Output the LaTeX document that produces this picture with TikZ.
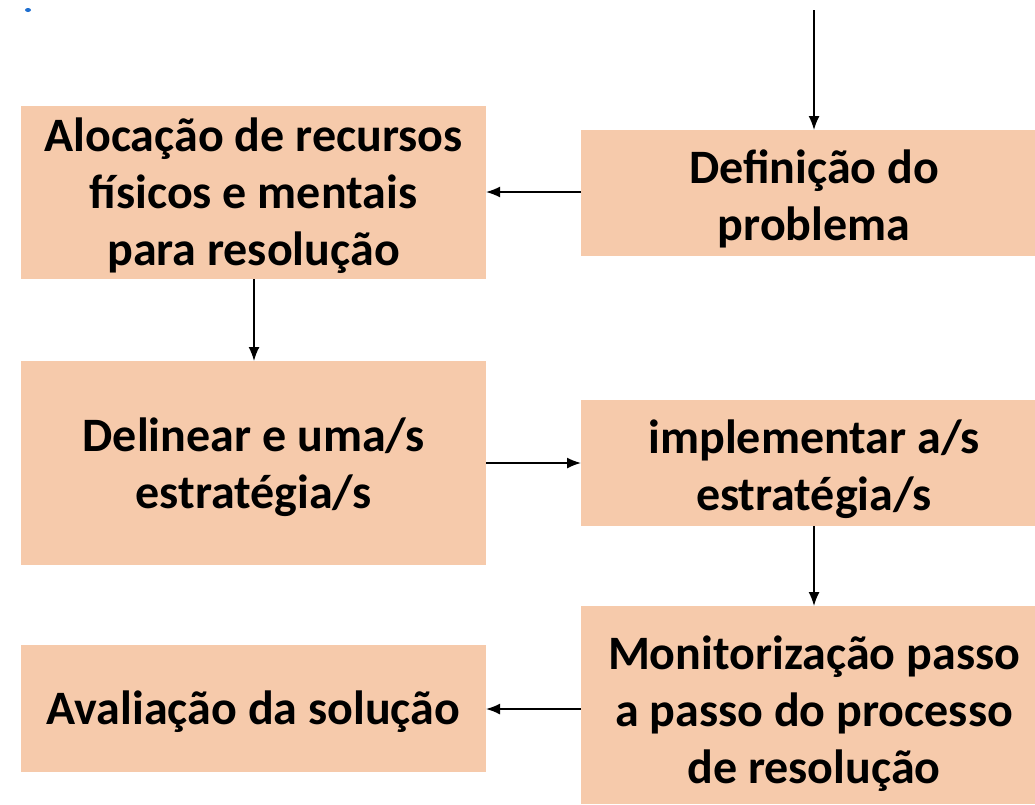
\documentclass[tikz,border=0pt]{standalone}
\usepackage{fontspec}
\setmainfont{Carlito}
\usetikzlibrary{arrows.meta}
\definecolor{boxfill}{HTML}{F6CAAB}
\definecolor{dotblue}{HTML}{1F6FD0}
\begin{document}
\begin{tikzpicture}[x=1pt,y=-1pt,
  stepbox/.style={fill=boxfill, draw=none, inner sep=0pt, align=center,
    font=\fontsize{48}{57}\selectfont\bfseries, text=black},
  conn/.style={line width=1.6pt, -{Latex[length=14pt,width=11pt]}}]
\useasboundingbox (0,0) rectangle (1035,804);
\fill[white] (0,0) rectangle (1035,804);
\fill[dotblue] (28,10) ellipse (3 and 2);
% boxes
\fill[boxfill] (21,106) rectangle (486,279);
\node[stepbox] (A) at (253.5,196) {Alocação de recursos\\físicos e mentais\\para resolução};
\coordinate (Ae) at (486,192);
\coordinate (As) at (254,279);
\fill[boxfill] (581,130) rectangle (1035,256);
\node[stepbox] (B) at (814,199) {Definição do\\problema};
\coordinate (Bw) at (581,192);
\coordinate (Bn) at (814,130);
\coordinate (top) at (814,10);
\fill[boxfill] (21,361) rectangle (486,565);
\node[stepbox] (C) at (253.5,467) {Delinear e uma/s\\estratégia/s};
\coordinate (Cn) at (254,361);
\coordinate (Ce) at (486,463);
\fill[boxfill] (581,400) rectangle (1035,526);
\node[stepbox] (D) at (814,469) {implementar a/s\\estratégia/s};
\coordinate (Dw) at (581,463);
\coordinate (Ds) at (814,526);
\fill[boxfill] (581,606) rectangle (1035,804);
\node[stepbox] (E) at (814,714) {Monitorização passo\\a passo do processo\\de resolução};
\coordinate (En) at (814,606);
\coordinate (Ew) at (581,709);
\fill[boxfill] (21,645) rectangle (486,772);
\node[stepbox] (F) at (253.5,712) {Avaliação da solução};
\coordinate (Fe) at (486,709);
% connectors
\draw[conn] (top) -- (Bn);
\draw[conn] (Bw) -- (Ae);
\draw[conn] (As) -- (Cn);
\draw[conn] (Ce) -- (Dw);
\draw[conn] (Ds) -- (En);
\draw[conn] (Ew) -- (Fe);
\end{tikzpicture}
\end{document}
